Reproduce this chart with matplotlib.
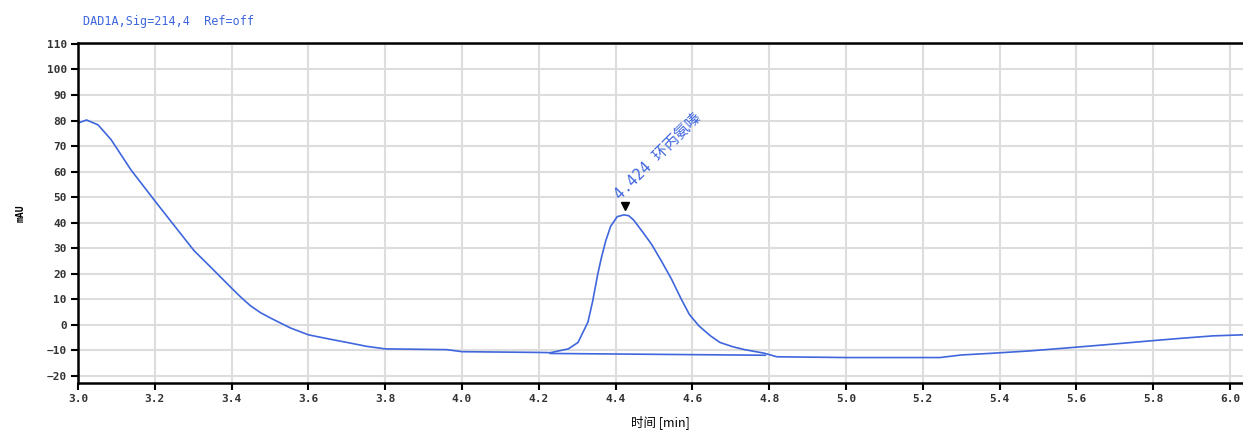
import numpy as np
import matplotlib
matplotlib.use("Agg")
import matplotlib.pyplot as plt
import matplotlib.ticker as ticker

plt.rcParams['font.family'] = ['DejaVu Sans Mono', 'Noto Sans CJK SC']

# signal (min, mAU)
t = [3.000, 3.022, 3.052, 3.086, 3.138, 3.200, 3.259, 3.302, 3.345, 3.400,
     3.425, 3.449, 3.475, 3.501, 3.553, 3.600, 3.656, 3.708, 3.751, 3.800,
     3.960, 4.000, 4.200, 4.230, 4.277, 4.302, 4.315, 4.328, 4.340, 4.353,
     4.362, 4.374, 4.387, 4.404, 4.421, 4.434, 4.447, 4.472, 4.494, 4.519,
     4.545, 4.570, 4.592, 4.617, 4.647, 4.672, 4.706, 4.736, 4.787, 4.820,
     5.000, 5.245, 5.300, 5.383, 5.479, 5.562, 5.643, 5.721, 5.797, 5.878,
     5.956, 6.034]
sig = [79.0, 80.2, 78.3, 72.5, 60.6, 48.5, 37.2, 29.0, 22.6, 14.3,
       10.6, 7.4, 4.7, 2.6, -1.3, -4.0, -5.7, -7.2, -8.5, -9.5,
       -9.8, -10.6, -10.9, -11.0, -9.5, -7.0, -3.0, 1.0, 9.0, 19.4,
       25.6, 32.7, 38.5, 42.3, 43.0, 42.7, 41.0, 36.0, 31.4, 25.0,
       18.0, 10.3, 4.0, -0.5, -4.4, -7.0, -8.7, -9.8, -11.2, -12.6,
       -12.9, -12.9, -11.9, -11.2, -10.3, -9.3, -8.3, -7.3, -6.3, -5.3,
       -4.4, -4.0]

# integration baseline under the peak
base_t = [4.230, 4.790]
base_y = [-11.3, -12.0]

peak_t = 4.424
peak_y = 43.0
peak_label = '4.424 环丙氨嗪'

title = 'DAD1A,Sig=214,4  Ref=off'
xlabel = '时间 [min]'
ylabel = 'mAU'

blue = '#3f66dd'

fig = plt.figure(figsize=(12.43, 4.32), dpi=100)
ax = fig.add_axes([0.0628, 0.1127, 0.9372, 0.7885])

ax.plot(t, sig, color=blue, linewidth=1.2)
ax.plot(base_t, base_y, color=blue, linewidth=1.2)

# peak marker + label
ax.plot(peak_t, peak_y + 3.5, marker='v', color='black', markersize=5.5)
ax.text(peak_t - 0.006, peak_y + 5.0, peak_label, rotation=45, color=blue,
        fontsize=11, ha='left', va='bottom', rotation_mode='anchor',
        family=['DejaVu Sans Mono', 'Noto Sans CJK SC'])

ax.set_xlim(3.0, 6.034)
ax.set_ylim(-23, 110.5)
ax.xaxis.set_major_locator(ticker.MultipleLocator(0.2))
ax.yaxis.set_major_locator(ticker.MultipleLocator(10))
ax.xaxis.set_major_formatter(ticker.FormatStrFormatter('%.1f'))

ax.grid(True, color='#dddddd', linewidth=1.5)
ax.set_axisbelow(True)
for s in ['left', 'bottom', 'top']:
    ax.spines[s].set_linewidth(1.8)
    ax.spines[s].set_color('black')
ax.spines['right'].set_visible(False)
ax.tick_params(direction='out', length=5, width=1.5, labelsize=8,
               colors='black', pad=3)
for lab in ax.get_xticklabels() + ax.get_yticklabels():
    lab.set_fontweight('bold')
    lab.set_color('#333333')

ax.set_xlabel(xlabel, fontsize=9, labelpad=8,
              family=['Noto Sans CJK SC', 'DejaVu Sans'])
ax.set_ylabel(ylabel, fontsize=7, fontweight='bold', labelpad=15)
fig.text(0.067, 0.950, title, color=blue, fontsize=8.5, ha='left', va='center')

fig.savefig('out.png', dpi=100, facecolor='white')
